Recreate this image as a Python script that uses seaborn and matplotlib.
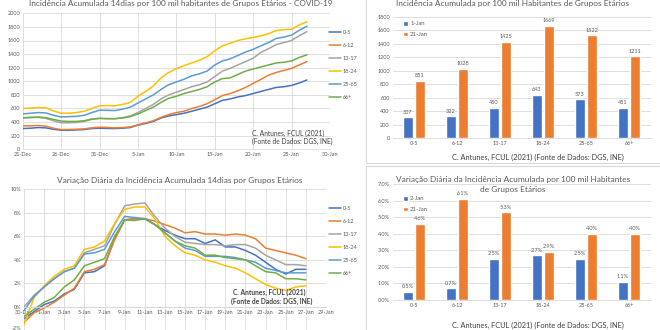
import numpy as np
import pandas as pd
import matplotlib
matplotlib.use("Agg")
import matplotlib.pyplot as plt
import seaborn as sns
from matplotlib.ticker import FuncFormatter
from matplotlib.lines import Line2D
from matplotlib.patches import Rectangle

# ---------------- data ----------------
grupos = ["0-5", "6-12", "13-17", "18-24", "25-65", "66+"]
cores = ["#4472C4", "#ED7D31", "#A5A5A5", "#FFC000", "#5B9BD5", "#70AD47"]

# Incidência acumulada 14 dias (21-Dec .. 27-Jan)
ia_0_5 = [305, 310, 320, 315, 295, 280, 280, 285, 290, 305, 310, 307, 305, 310, 320, 355, 380, 410, 460,
          490, 510, 530, 560, 590, 620, 670, 720, 740, 770, 790, 820, 851, 880, 910, 920, 940, 975, 1020]
ia_6_12 = [345, 345, 350, 340, 310, 290, 290, 295, 300, 315, 325, 322, 315, 320, 330, 360, 390, 420, 470,
           510, 540, 560, 600, 630, 670, 730, 790, 820, 860, 910, 970, 1028, 1090, 1130, 1160, 1190, 1240, 1290]
ia_13_17 = [460, 465, 470, 455, 420, 390, 390, 395, 410, 440, 455, 450, 450, 465, 490, 540, 600, 660, 740,
            800, 840, 880, 920, 950, 990, 1070, 1150, 1190, 1240, 1290, 1340, 1425, 1480, 1540, 1570, 1600, 1670, 1730]
ia_18_24 = [600, 605, 615, 610, 565, 530, 530, 540, 560, 600, 640, 643, 640, 660, 690, 780, 850, 930, 1050,
            1130, 1185, 1230, 1270, 1310, 1360, 1450, 1520, 1560, 1600, 1625, 1645, 1669, 1700, 1745, 1760, 1765, 1830, 1875]
ia_25_65 = [520, 530, 540, 535, 500, 475, 480, 485, 500, 540, 575, 573, 570, 590, 620, 680, 740, 800, 880,
            950, 990, 1030, 1080, 1110, 1150, 1240, 1300, 1330, 1380, 1430, 1470, 1522, 1570, 1630, 1650, 1680, 1750, 1810]
ia_66 = [465, 470, 475, 465, 440, 415, 410, 410, 420, 445, 455, 451, 450, 460, 480, 520, 570, 620, 690,
         750, 780, 820, 850, 880, 920, 990, 1040, 1050, 1100, 1150, 1180, 1211, 1240, 1270, 1280, 1300, 1350, 1390]
ia_ticks = ["21-Dec", "26-Dec", "31-Dec", "5-Jan", "10-Jan", "15-Jan", "20-Jan", "25-Jan", "30-Jan"]

# Variação diária (%) (30-Dec .. 27-Jan)
vd_0_5 = [-1.0, -0.4, 0.2, 0.5, 1.1, 1.5, 2.9, 3.0, 3.5, 5.8, 7.4, 7.5, 7.5, 7.0, 6.5, 6.1, 5.8, 5.8, 5.4,
          5.7, 5.1, 5.1, 4.8, 4.4, 3.8, 3.2, 2.8, 3.2, 3.2]
vd_6_12 = [-1.3, -0.5, -0.1, 0.4, 1.0, 1.6, 3.0, 3.2, 3.6, 5.7, 7.4, 7.5, 7.5, 7.3, 7.0, 6.7, 6.3, 6.4, 6.2,
           6.2, 6.1, 6.2, 6.1, 5.8, 5.0, 4.8, 4.6, 4.4, 4.1]
vd_13_17 = [0.0, 1.0, 1.7, 2.4, 3.0, 3.3, 4.6, 4.9, 5.2, 7.0, 8.6, 8.75, 8.85, 7.7, 6.7, 6.0, 5.5, 5.4, 5.3,
            5.3, 5.2, 5.3, 5.3, 5.0, 4.4, 4.0, 3.6, 3.6, 3.5]
vd_18_24 = [-1.5, 0.8, 1.8, 2.6, 3.2, 3.5, 4.9, 5.1, 5.6, 7.1, 8.3, 8.5, 8.5, 7.5, 6.0, 5.2, 4.6, 4.4, 4.0,
            3.8, 3.5, 3.3, 2.9, 2.4, 1.9, 1.6, 1.4, 1.7, 1.8]
vd_25_65 = [-0.3, 0.9, 1.7, 2.4, 3.0, 3.3, 4.5, 4.6, 4.9, 6.4, 7.7, 7.6, 7.5, 7.0, 6.3, 5.6, 5.0, 4.8, 4.3,
            4.3, 4.3, 4.2, 4.0, 3.8, 3.3, 3.1, 2.9, 2.9, 2.9]
vd_66 = [-0.8, -0.2, 0.4, 0.8, 1.7, 2.3, 3.5, 3.8, 4.1, 6.0, 7.4, 7.35, 7.5, 7.0, 6.3, 5.6, 5.2, 5.0, 4.4,
         4.4, 4.2, 4.1, 4.0, 3.5, 3.0, 2.9, 2.4, 2.4, 2.3]
vd_ticks = ["30-Dec", "1-Jan", "3-Jan", "5-Jan", "7-Jan", "9-Jan", "11-Jan", "13-Jan", "15-Jan",
            "17-Jan", "19-Jan", "21-Jan", "23-Jan", "25-Jan", "27-Jan", "29-Jan"]

# Bar charts
ia_1jan = [307, 322, 450, 643, 573, 451]
ia_21jan = [851, 1028, 1425, 1669, 1522, 1211]
vd_2jan = [0.5, 0.7, 2.5, 2.7, 2.5, 1.1]
vd_21jan = [4.6, 6.1, 5.3, 2.9, 4.0, 4.0]

# ---------------- style ----------------
sns.set_theme(style="white")
plt.rcParams["font.family"] = ["Lato", "DejaVu Sans"]
TXT = "#595959"
GRID = "#D9D9D9"
TICK_FS = 4.0
TITLE_FS = 5.95

W, H = 660, 330
fig = plt.figure(figsize=(6.6, 3.3), dpi=100)
fig.patch.set_facecolor("white")


def box(l, t, r, b):
    return [l / W, 1 - b / H, (r - l) / W, (b - t) / H]


def fx(x):
    return x / W


def fy(y):
    return 1 - y / H


def clean(ax):
    for s in ax.spines.values():
        s.set_visible(False)
    ax.tick_params(length=0, labelsize=TICK_FS, colors=TXT, pad=2)
    ax.set_xlabel("")
    ax.set_ylabel("")
    ax.set_facecolor("none")


def long_df(series):
    rows = []
    for g, vals in zip(grupos, series):
        for i, v in enumerate(vals):
            rows.append({"dia": i, "valor": v, "grupo": g})
    return pd.DataFrame(rows)


h1 = [Line2D([], [], color=c, lw=1.1) for c in cores]

# ---------------- top-left: line chart ----------------
ax1 = fig.add_axes(box(22.7, 13.3, 330, 149.3))
df1 = long_df([ia_0_5, ia_6_12, ia_13_17, ia_18_24, ia_25_65, ia_66])
sns.lineplot(data=df1, x="dia", y="valor", hue="grupo", hue_order=grupos, palette=cores,
             linewidth=1.1, ax=ax1, legend=False)
ax1.set_xlim(0, 40)
ax1.set_ylim(0, 2000)
ax1.set_xticks(np.arange(0, 41, 5))
ax1.set_xticklabels(ia_ticks)
ax1.set_yticks(np.arange(0, 2001, 200))
ax1.grid(True, color=GRID, lw=0.6)
clean(ax1)
ax1.spines["bottom"].set_visible(True)
ax1.spines["bottom"].set_color(GRID)
ax1.spines["bottom"].set_linewidth(0.6)
fig.legend(h1, grupos, loc="upper left", bbox_to_anchor=(fx(329), fy(29.5)), frameon=False,
           fontsize=TICK_FS, handlelength=2.2, handletextpad=0.3, labelspacing=1.45,
           labelcolor=TXT, borderaxespad=0, borderpad=0)
fig.text(fx(252), fy(133), "C. Antunes, FCUL (2021)", fontsize=4.8, color="#404040", va="center")
fig.text(fx(252), fy(141.5), "(Fonte de Dados: DGS, INE)", fontsize=4.8, color="#404040", va="center")
fig.text(fx(181), fy(3.5), "Incidência Acumulada 14dias por 100 mil habitantes de Grupos Etários - COVID-19",
         fontsize=TITLE_FS, color=TXT, ha="center", va="center")

# ---------------- bottom-left: line chart ----------------
ax2 = fig.add_axes(box(24, 189.3, 326, 330.5))
df2 = long_df([vd_0_5, vd_6_12, vd_13_17, vd_18_24, vd_25_65, vd_66])
sns.lineplot(data=df2, x="dia", y="valor", hue="grupo", hue_order=grupos, palette=cores,
             linewidth=1.1, ax=ax2, legend=False)
ax2.set_xlim(0, 30)
ax2.set_ylim(-2, 10)
ax2.set_xticks(np.arange(0, 31, 2))
ax2.set_xticklabels(vd_ticks)
ax2.set_yticks(np.arange(-2, 11, 2))
ax2.yaxis.set_major_formatter(FuncFormatter(lambda v, p: f"{v:.0f}%"))
ax2.grid(True, color=GRID, lw=0.6)
clean(ax2)
ax2.spines["bottom"].set_visible(True)
ax2.spines["bottom"].set_position(("data", 0))
ax2.spines["bottom"].set_color(GRID)
ax2.spines["bottom"].set_linewidth(0.6)
fig.canvas.draw()
ax2.get_yticklabels()[0].set_va("bottom")
fig.legend(h1, grupos, loc="upper left", bbox_to_anchor=(fx(329), fy(206)), frameon=False,
           fontsize=TICK_FS, handlelength=2.2, handletextpad=0.3, labelspacing=1.45,
           labelcolor=TXT, borderaxespad=0, borderpad=0)
fig.text(fx(233), fy(292), "C. Antunes, FCUL (2021)", fontsize=4.8, color="#404040", va="center",
         fontweight="bold")
fig.text(fx(231), fy(301), "(Fonte de Dados: DGS, INE)", fontsize=4.8, color="#404040", va="center",
         fontweight="bold")
fig.text(fx(180), fy(180), "Variação Diária da Incidência Acumulada 14dias por Grupos Etários",
         fontsize=TITLE_FS, color=TXT, ha="center", va="center")

# ---------------- top-right: bar chart ----------------
ax3 = fig.add_axes(box(392.5, 16.7, 650.5, 138))
df3 = pd.DataFrame({"grupo": grupos * 2, "valor": ia_1jan + ia_21jan,
                    "data": ["1-Jan"] * 6 + ["21-Jan"] * 6})
sns.barplot(data=df3, x="grupo", y="valor", hue="data", palette=["#4472C4", "#ED7D31"],
            width=0.56, gap=0.12, saturation=1, errorbar=None, ax=ax3)
ax3.set_ylim(0, 1800)
ax3.set_yticks(np.arange(0, 1801, 200))
ax3.grid(True, axis="y", color=GRID, lw=0.6)
ax3.set_axisbelow(True)
clean(ax3)
ax3.spines["bottom"].set_visible(True)
ax3.spines["bottom"].set_color(GRID)
ax3.spines["bottom"].set_linewidth(0.6)
for cont in ax3.containers:
    ax3.bar_label(cont, labels=[f"{v:.0f}" for v in cont.datavalues], fontsize=TICK_FS,
                  color=TXT, padding=2)
ax3.legend(loc="upper left", bbox_to_anchor=(fx(403), fy(21)), bbox_transform=fig.transFigure,
           frameon=False, fontsize=TICK_FS + 0.3, handlelength=0.8, handleheight=0.8,
           handletextpad=0.4, labelspacing=0.9, labelcolor=TXT, borderpad=0, borderaxespad=0)
fig.text(fx(513), fy(3.5), "Incidência Acumulada por 100 mil Habitantes de Grupos Etários",
         fontsize=TITLE_FS, color=TXT, ha="center", va="center")
fig.text(fx(538), fy(157), "C. Antunes, FCUL (2021) (Fonte de Dados: DGS, INE)", fontsize=5.3,
         color="#404040", ha="center", va="center")

# ---------------- bottom-right: bar chart ----------------
ax4 = fig.add_axes(box(392.5, 184.3, 650.5, 300))
df4 = pd.DataFrame({"grupo": grupos * 2, "valor": vd_2jan + vd_21jan,
                    "data": ["2-Jan"] * 6 + ["21-Jan"] * 6})
sns.barplot(data=df4, x="grupo", y="valor", hue="data", palette=["#4472C4", "#ED7D31"],
            width=0.56, gap=0.12, saturation=1, errorbar=None, ax=ax4)
ax4.set_ylim(0, 7)
ax4.set_yticks(np.arange(0, 7.01, 1))
ax4.yaxis.set_major_formatter(FuncFormatter(lambda v, p: f"{v:.1f}%"))
ax4.grid(True, axis="y", color=GRID, lw=0.6)
ax4.set_axisbelow(True)
clean(ax4)
ax4.spines["bottom"].set_visible(True)
ax4.spines["bottom"].set_color(GRID)
ax4.spines["bottom"].set_linewidth(0.6)
for cont in ax4.containers:
    ax4.bar_label(cont, labels=[f"{v:.1f}%" for v in cont.datavalues], fontsize=TICK_FS,
                  color=TXT, padding=2)
ax4.legend(loc="upper left", bbox_to_anchor=(fx(403), fy(196)), bbox_transform=fig.transFigure,
           frameon=False, fontsize=TICK_FS + 0.3, handlelength=0.8, handleheight=0.8,
           handletextpad=0.4, labelspacing=0.9, labelcolor=TXT, borderpad=0, borderaxespad=0)
fig.text(fx(513), fy(179), "Variação Diária da Incidência Acumulada por 100 mil Habitantes",
         fontsize=TITLE_FS, color=TXT, ha="center", va="center")
fig.text(fx(513), fy(189.5), "de Grupos Etários", fontsize=TITLE_FS, color=TXT, ha="center", va="center")
fig.text(fx(538), fy(325.5), "C. Antunes, FCUL (2021) (Fonte de Dados: DGS, INE)", fontsize=5.3,
         color="#404040", ha="center", va="center")

# panel borders on the right
for (l, t, r, b) in [(366, -2, 662, 163), (366, 165.5, 662, 332)]:
    fig.patches.append(Rectangle((fx(l), fy(b)), (r - l) / W, (b - t) / H, transform=fig.transFigure,
                                 fill=False, edgecolor=GRID, lw=0.8, zorder=0))

fig.savefig("out.png", dpi=100, facecolor="white")
